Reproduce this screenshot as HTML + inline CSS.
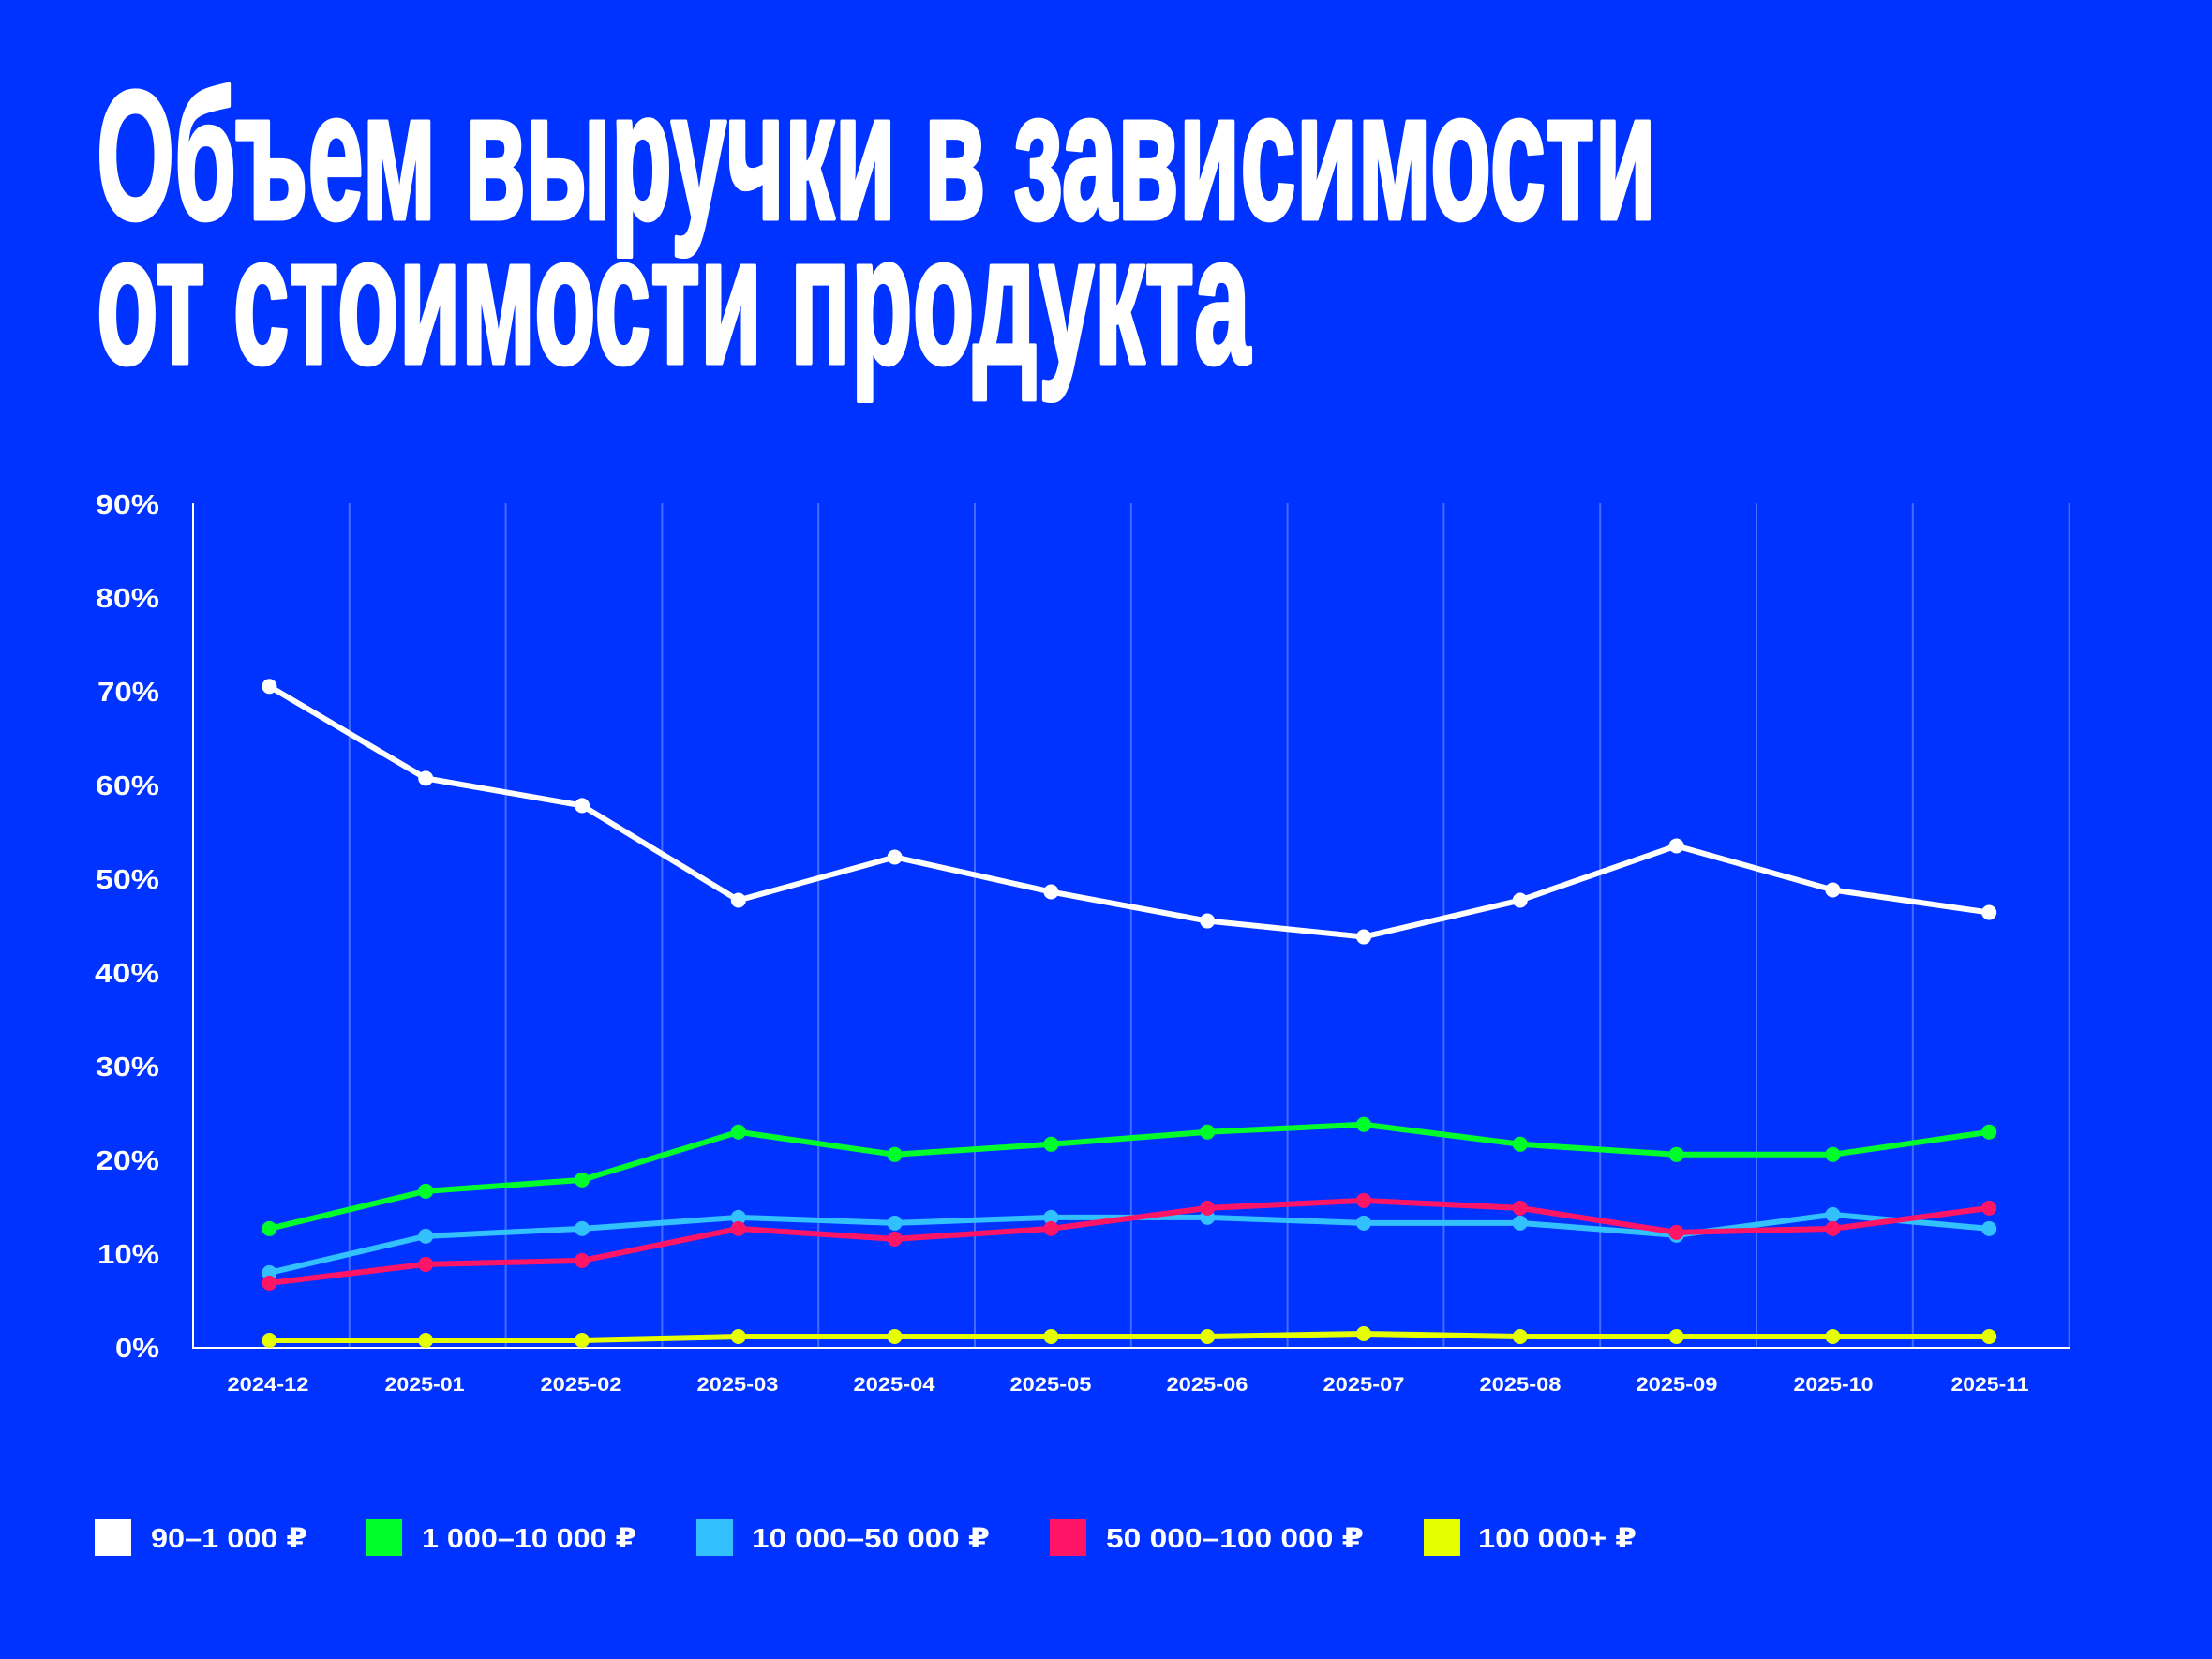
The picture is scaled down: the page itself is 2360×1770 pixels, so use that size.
<!DOCTYPE html>
<html><head><meta charset="utf-8"><style>
html,body{margin:0;padding:0;background:#0033ff;}
svg{display:block}
text{font-family:"Liberation Sans","DejaVu Sans",sans-serif;fill:#fff}
</style></head><body>
<svg id="s" width="2360" height="1770" viewBox="0 0 2360 1770" xmlns="http://www.w3.org/2000/svg">
<rect width="2360" height="1770" fill="#0033ff"/>
<g stroke="#fff" stroke-width="5" stroke-linejoin="round">
<text x="103" y="233" font-size="195" font-weight="bold" textLength="1664" lengthAdjust="spacingAndGlyphs">Объем выручки в зависимости</text>
<text x="103" y="387" font-size="195" font-weight="bold" textLength="1231" lengthAdjust="spacingAndGlyphs">от стоимости продукта</text>
</g>
<g id="grid"></g>
<g font-size="29" font-weight="bold" text-anchor="end">
<text x="170" y="548" textLength="68" lengthAdjust="spacingAndGlyphs">90%</text><text x="170" y="648" textLength="68" lengthAdjust="spacingAndGlyphs">80%</text><text x="170" y="748" textLength="66" lengthAdjust="spacingAndGlyphs">70%</text>
<text x="170" y="848" textLength="68" lengthAdjust="spacingAndGlyphs">60%</text><text x="170" y="948" textLength="68" lengthAdjust="spacingAndGlyphs">50%</text><text x="170" y="1048" textLength="69" lengthAdjust="spacingAndGlyphs">40%</text>
<text x="170" y="1148" textLength="68" lengthAdjust="spacingAndGlyphs">30%</text><text x="170" y="1248" textLength="68" lengthAdjust="spacingAndGlyphs">20%</text><text x="170" y="1348" textLength="66" lengthAdjust="spacingAndGlyphs">10%</text>
<text x="170" y="1448" textLength="47" lengthAdjust="spacingAndGlyphs">0%</text>
</g>
<g font-size="21" font-weight="bold" text-anchor="middle">
<text x="286" y="1484" textLength="87" lengthAdjust="spacingAndGlyphs">2024-12</text><text x="453" y="1484" textLength="85" lengthAdjust="spacingAndGlyphs">2025-01</text><text x="620" y="1484" textLength="87" lengthAdjust="spacingAndGlyphs">2025-02</text>
<text x="787" y="1484" textLength="87" lengthAdjust="spacingAndGlyphs">2025-03</text><text x="954" y="1484" textLength="87" lengthAdjust="spacingAndGlyphs">2025-04</text><text x="1121" y="1484" textLength="87" lengthAdjust="spacingAndGlyphs">2025-05</text>
<text x="1288" y="1484" textLength="87" lengthAdjust="spacingAndGlyphs">2025-06</text><text x="1455" y="1484" textLength="87" lengthAdjust="spacingAndGlyphs">2025-07</text><text x="1622" y="1484" textLength="87" lengthAdjust="spacingAndGlyphs">2025-08</text>
<text x="1789" y="1484" textLength="87" lengthAdjust="spacingAndGlyphs">2025-09</text><text x="1956" y="1484" textLength="85" lengthAdjust="spacingAndGlyphs">2025-10</text><text x="2123" y="1484" textLength="83" lengthAdjust="spacingAndGlyphs">2025-11</text>
</g>
<g id="series"></g>
<g font-size="29" font-weight="bold">
<rect x="101" y="1621" width="39" height="39" fill="#ffffff"/><text x="161" y="1651" textLength="167" lengthAdjust="spacingAndGlyphs">90–1 000 ₽</text>
<rect x="390" y="1621" width="39" height="39" fill="#00ff2a"/><text x="450" y="1651" textLength="229" lengthAdjust="spacingAndGlyphs">1 000–10 000 ₽</text>
<rect x="743" y="1621" width="39" height="39" fill="#33c0ff"/><text x="802" y="1651" textLength="254" lengthAdjust="spacingAndGlyphs">10 000–50 000 ₽</text>
<rect x="1120" y="1621" width="39" height="39" fill="#ff1466"/><text x="1180" y="1651" textLength="275" lengthAdjust="spacingAndGlyphs">50 000–100 000 ₽</text>
<rect x="1519" y="1621" width="39" height="39" fill="#e6ff00"/><text x="1577" y="1651" textLength="169" lengthAdjust="spacingAndGlyphs">100 000+ ₽</text>
</g>
</svg>
<script>
var NS="http://www.w3.org/2000/svg";
function el(p,t,a){var e=document.createElementNS(NS,t);for(var k in a)e.setAttribute(k,a[k]);p.appendChild(e);return e;}
var g=document.getElementById("grid");
for(var i=1;i<=12;i++){var x=206+166.8*i;el(g,"line",{x1:x,y1:537,x2:x,y2:1438,stroke:"rgba(255,255,255,0.28)","stroke-width":2});}
el(g,"line",{x1:206,y1:537,x2:206,y2:1439,stroke:"#fff","stroke-width":2});
el(g,"line",{x1:205,y1:1438,x2:2208,y2:1438,stroke:"#fff","stroke-width":2});
var data=[
["#e6ff00",[0.8,0.8,0.8,1.2,1.2,1.2,1.2,1.5,1.2,1.2,1.2,1.2]],
["#33c0ff",[8.0,11.9,12.7,13.9,13.3,13.9,13.9,13.3,13.3,12.0,14.2,12.7]],
["#ff1466",[6.9,8.9,9.3,12.7,11.6,12.7,14.9,15.7,14.9,12.3,12.7,14.9]],
["#00ff2a",[12.7,16.7,17.9,23.0,20.6,21.7,23.0,23.8,21.7,20.6,20.6,23.0]],
["#ffffff",[70.5,60.7,57.8,47.7,52.3,48.6,45.5,43.8,47.7,53.5,48.8,46.4]]
];
var s=document.getElementById("series");
data.forEach(function(d){
 var pts=d[1].map(function(v,i){return [204+166.8*(i+0.5),1438-v*10.01];});
 el(s,"polyline",{points:pts.map(function(p){return p.join(",")}).join(" "),fill:"none",stroke:d[0],"stroke-width":6,"stroke-linejoin":"round"});
 pts.forEach(function(p){el(s,"circle",{cx:p[0],cy:p[1],r:8,fill:d[0]});});
});
</script>
</body></html>
